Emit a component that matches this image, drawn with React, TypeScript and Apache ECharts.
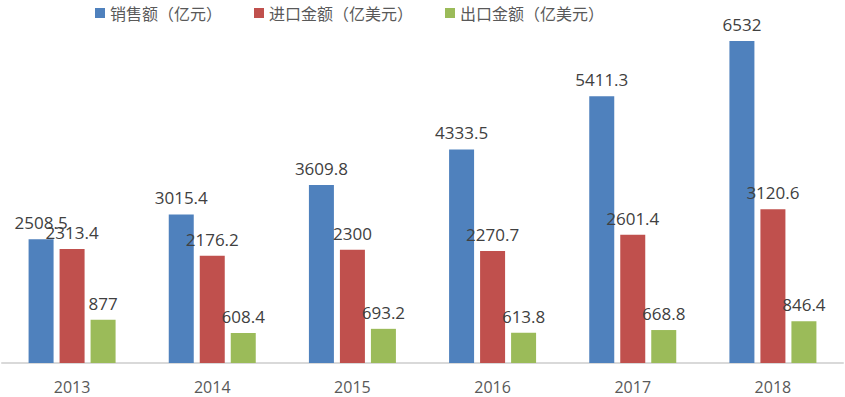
import React, { useEffect, useRef } from "react";
import * as echarts from "echarts";

const categories = ["2013", "2014", "2015", "2016", "2017", "2018"];
const sales = [2508.5, 3015.4, 3609.8, 4333.5, 5411.3, 6532];
const imports = [2313.4, 2176.2, 2300, 2270.7, 2601.4, 3120.6];
const exports = [877, 608.4, 693.2, 613.8, 668.8, 846.4];
const seriesNames = ["销售额（亿元）", "进口金额（亿美元）", "出口金额（亿美元）"];
const colors = ["#4F81BD", "#C0504D", "#9BBB59"];

export default function App() {
  const ref = useRef<HTMLDivElement>(null);
  useEffect(() => {
    if (!ref.current) return;
    const chart = echarts.init(ref.current, undefined, { renderer: "svg" });
    const label = {
      show: true,
      position: "top",
      distance: 8,
      color: "#404040",
      fontSize: 17,
      fontFamily: "Open Sans, Liberation Sans, sans-serif",
    };
    const datas = [sales, imports, exports];
    chart.setOption({
      animation: false,
      color: colors,
      legend: {
        top: 0,
        left: 90,
        icon: "rect",
        itemWidth: 10,
        itemHeight: 10,
        itemGap: 32,
        textStyle: { color: "#595959", fontSize: 16, fontFamily: "Noto Sans CJK SC" },
        data: seriesNames,
      },
      grid: { left: 2, right: 2, top: 18, bottom: 34, containLabel: false },
      xAxis: {
        type: "category",
        data: categories,
        axisLine: { lineStyle: { color: "#D9D9D9", width: 2 } },
        axisTick: { show: false },
        axisLabel: { color: "#595959", fontSize: 16, margin: 16, fontFamily: "Open Sans, Liberation Sans, sans-serif" },
      },
      yAxis: {
        type: "value",
        min: 0,
        max: 7000,
        show: false,
        splitLine: { show: false },
      },
      series: seriesNames.map((name, i) => ({
        name,
        type: "bar",
        data: datas[i],
        barWidth: 25,
        barGap: "24%",
        label,
      })),
    });
    return () => chart.dispose();
  }, []);
  return <div ref={ref} style={{ position: "absolute", left: 0, top: 0, width: 845, height: 397 }} />;
}
